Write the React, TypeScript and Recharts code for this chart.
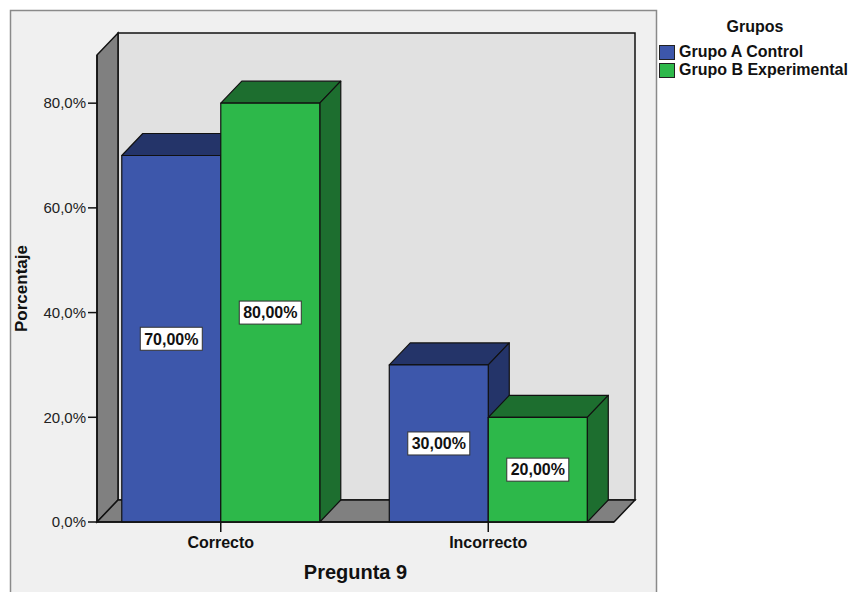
import { Bar, BarChart, LabelList, Legend, XAxis, YAxis } from 'recharts';

const categories = ['Correcto', 'Incorrecto'];
const grupoAControl = [70, 30];
const grupoBExperimental = [80, 20];
const yTicks = [0, 20, 40, 60, 80];
const seriesNames = ['Grupo A Control', 'Grupo B Experimental'];

const data = categories.map((pregunta, i) => ({
  pregunta,
  grupoA: grupoAControl[i],
  grupoB: grupoBExperimental[i],
}));

const WIDTH = 851;
const HEIGHT = 592;
const FONT = '"Liberation Sans", Arial, sans-serif';

// front plane of the plot and the 3D depth offset
const PLOT = { left: 97, top: 55, right: 614, bottom: 522 };
const DX = 21;
const DY = 22;
const Y_AXIS_W = 60;
const X_AXIS_H = 30;
const Y_MAX = 89.2;

const COLORS = {
  a: { front: '#3d57ab', dark: '#243469' },
  b: { front: '#2db84a', dark: '#1d6e2f' },
};

const pct1 = (v: number) => `${v.toFixed(1).replace('.', ',')}%`;
const pct2 = (v: number) => `${v.toFixed(2).replace('.', ',')}%`;

function Backdrop() {
  const { left, top, right, bottom } = PLOT;
  const wall = '#808080';
  return (
    <svg
      width={WIDTH}
      height={HEIGHT}
      style={{ position: 'absolute', left: 0, top: 0 }}
    >
      <rect x={10.5} y={10.5} width={646} height={600} fill="#f0f0f0" stroke="#8a8a8a" strokeWidth={1.5} />
      <polygon
        points={`${left + DX},${top - DY} ${right + DX},${top - DY} ${right + DX},${bottom - DY} ${left + DX},${bottom - DY}`}
        fill="#e1e1e1"
        stroke="#111"
        strokeWidth={1.5}
      />
      <polygon
        points={`${left},${top} ${left + DX},${top - DY} ${left + DX},${bottom - DY} ${left},${bottom}`}
        fill={wall}
        stroke="#111"
        strokeWidth={1.5}
      />
      <polygon
        points={`${left},${bottom} ${left + DX},${bottom - DY} ${right + DX},${bottom - DY} ${right},${bottom}`}
        fill={wall}
        stroke="#111"
        strokeWidth={1.5}
      />
    </svg>
  );
}

function Box3D(props: any) {
  const { x, y, width, height, front, dark } = props;
  const r = x + width;
  const b = y + height;
  return (
    <g stroke="#111" strokeWidth={1.2} strokeLinejoin="round">
      <polygon points={`${x},${y} ${x + DX},${y - DY} ${r + DX},${y - DY} ${r},${y}`} fill={dark} />
      <polygon points={`${r},${y} ${r + DX},${y - DY} ${r + DX},${b - DY} ${r},${b}`} fill={dark} />
      <rect x={x} y={y} width={width} height={height} fill={front} />
    </g>
  );
}

function ValueTag(props: any) {
  const { x, y, width, height, value } = props;
  const cx = x + width / 2;
  const cy = y + height / 2;
  return (
    <g>
      <rect x={cx - 31} y={cy - 11.5} width={62} height={23} fill="#fff" stroke="#333" strokeWidth={1} />
      <text
        x={cx}
        y={cy}
        dy="0.36em"
        textAnchor="middle"
        fontFamily={FONT}
        fontWeight="bold"
        fontSize={16}
        fill="#111"
      >
        {pct2(value)}
      </text>
    </g>
  );
}

function LegendBox(props: any) {
  const payload = props.payload ?? [];
  return (
    <div style={{ fontFamily: FONT, fontWeight: 'bold', fontSize: 16, color: '#111' }}>
      <div style={{ textAlign: 'center', lineHeight: '18px', marginBottom: 7 }}>Grupos</div>
      {payload.map((entry: any) => (
        <div key={entry.value} style={{ display: 'flex', alignItems: 'center', height: 18 }}>
          <span
            style={{
              display: 'inline-block',
              width: 14,
              height: 13,
              background: entry.color,
              border: '1px solid #222',
              marginRight: 4,
            }}
          />
          <span style={{ lineHeight: '18px' }}>{entry.value}</span>
        </div>
      ))}
    </div>
  );
}

export default function App() {
  return (
    <div style={{ position: 'absolute', left: 0, top: 0, width: WIDTH, height: HEIGHT, background: '#fff' }}>
      <Backdrop />
      <div style={{ position: 'absolute', left: 0, top: 0 }}>
        <BarChart
          width={WIDTH}
          height={HEIGHT}
          data={data}
          margin={{
            top: PLOT.top,
            left: PLOT.left - Y_AXIS_W,
            right: WIDTH - PLOT.right,
            bottom: HEIGHT - PLOT.bottom - X_AXIS_H,
          }}
          barCategoryGap="13%"
          barGap={0}
        >
          <XAxis
            dataKey="pregunta"
            height={X_AXIS_H}
            padding={{ left: -10, right: -8 }}
            axisLine={{ stroke: '#111', strokeWidth: 1.5 }}
            tickLine={{ stroke: '#111', strokeWidth: 1.5 }}
            tickSize={10}
            tickMargin={5}
            tick={{ fontSize: 16, fontWeight: 'bold', fill: '#111', fontFamily: FONT }}
            label={({ viewBox }: any) => (
              <text
                x={viewBox.x + viewBox.width / 2}
                y={PLOT.bottom + 57}
                textAnchor="middle"
                fontFamily={FONT}
                fontWeight="bold"
                fontSize={20}
                fill="#111"
              >
                Pregunta 9
              </text>
            )}
          />
          <YAxis
            width={Y_AXIS_W}
            domain={[0, Y_MAX]}
            ticks={yTicks}
            tickFormatter={pct1}
            axisLine={{ stroke: '#111', strokeWidth: 1.5 }}
            tickLine={{ stroke: '#111', strokeWidth: 1.5 }}
            tickSize={9}
            tick={{ fontSize: 15, fill: '#222', fontFamily: FONT }}
            label={({ viewBox }: any) => (
              <text
                x={27}
                y={viewBox.y + viewBox.height / 2}
                transform={`rotate(-90 27 ${viewBox.y + viewBox.height / 2})`}
                textAnchor="middle"
                fontFamily={FONT}
                fontWeight="bold"
                fontSize={17}
                fill="#111"
              >
                Porcentaje
              </text>
            )}
          />
          <Legend
            layout="horizontal"
            align="center"
            verticalAlign="middle"
            content={LegendBox}
            wrapperStyle={{ left: 659, top: 18, width: 192 }}
          />
          <Bar
            dataKey="grupoA"
            name={seriesNames[0]}
            fill={COLORS.a.front}
            isAnimationActive={false}
            shape={(p: any) => <Box3D {...p} front={COLORS.a.front} dark={COLORS.a.dark} />}
          >
            <LabelList dataKey="grupoA" content={ValueTag} />
          </Bar>
          <Bar
            dataKey="grupoB"
            name={seriesNames[1]}
            fill={COLORS.b.front}
            isAnimationActive={false}
            shape={(p: any) => <Box3D {...p} front={COLORS.b.front} dark={COLORS.b.dark} />}
          >
            <LabelList dataKey="grupoB" content={ValueTag} />
          </Bar>
        </BarChart>
      </div>
    </div>
  );
}
